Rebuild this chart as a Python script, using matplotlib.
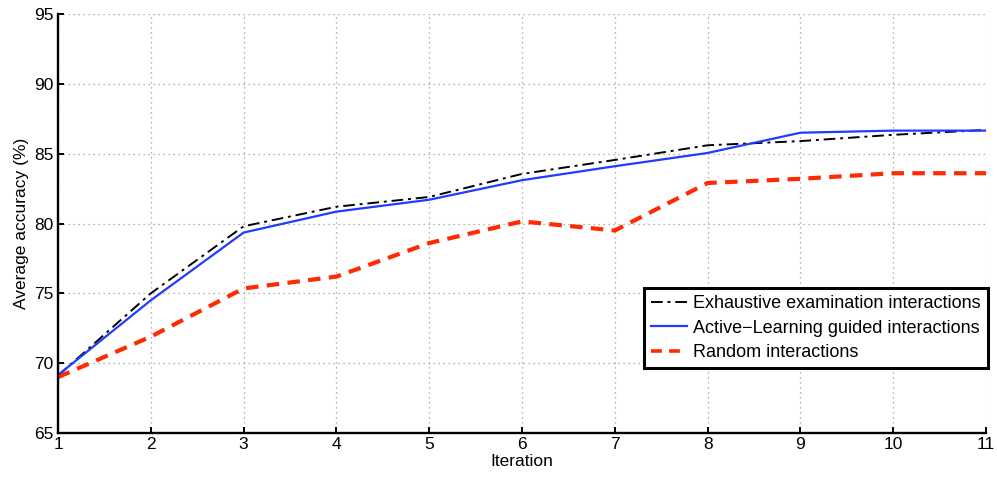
import matplotlib
matplotlib.use("Agg")
import matplotlib.pyplot as plt

iterations = [1, 2, 3, 4, 5, 6, 7, 8, 9, 10, 11]
exhaustive = [69.1, 75.0, 79.8, 81.2, 81.9, 83.55, 84.55, 85.6, 85.9, 86.35, 86.7]
active = [69.15, 74.5, 79.35, 80.85, 81.7, 83.1, 84.1, 85.05, 86.5, 86.65, 86.65]
random_ = [69.0, 71.9, 75.35, 76.2, 78.6, 80.15, 79.5, 82.9, 83.2, 83.6, 83.6]

labels = ["Exhaustive examination interactions",
          "Active\u2212Learning guided interactions",
          "Random interactions"]

plt.rcParams['font.family'] = ['Liberation Sans', 'DejaVu Sans']

fig = plt.figure(figsize=(9.97, 4.78), dpi=100)
ax = fig.add_axes([58 / 997, 1 - 433 / 478, (986 - 58) / 997, (433 - 14) / 478])

ax.plot(iterations, exhaustive, color='black', linestyle=(0, (6, 2.5, 1.5, 2.5)), lw=1.4, label=labels[0])
ax.plot(iterations, active, color='#1f3cff', linestyle='-', lw=1.6, label=labels[1])
ax.plot(iterations, random_, color='#ff2a00', linestyle=(0, (3, 2)), lw=3.0, label=labels[2])

ax.set_xlim(1, 11)
ax.set_ylim(65, 95)
ax.set_xticks(range(1, 12))
ax.set_yticks(range(65, 96, 5))
ax.grid(True, color='#999999', linestyle=(0, (1, 3)), lw=0.9)
ax.tick_params(direction='in', length=4, width=1.4, labelsize=12.5, pad=3,
               top=False, right=False)
for s in ['top', 'right']:
    ax.spines[s].set_visible(False)
for s in ['left', 'bottom']:
    ax.spines[s].set_linewidth(1.7)

ax.set_xlabel("Iteration", fontsize=12.5, labelpad=1)
ax.set_ylabel("Average accuracy (%)", fontsize=12.5, labelpad=4)

leg = ax.legend(loc='lower right', bbox_to_anchor=(1.002, 0.155), fontsize=13,
                frameon=True, fancybox=False, handlelength=1.95, handletextpad=0.35,
                borderpad=0.4, labelspacing=0.4, borderaxespad=0)
leg.get_frame().set_edgecolor('black')
leg.get_frame().set_linewidth(2.2)
leg.get_frame().set_alpha(1)
for h in leg.get_lines():
    if h.get_color() == '#ff2a00':
        h.set_linewidth(2.6)

fig.savefig("out.png", dpi=100)
